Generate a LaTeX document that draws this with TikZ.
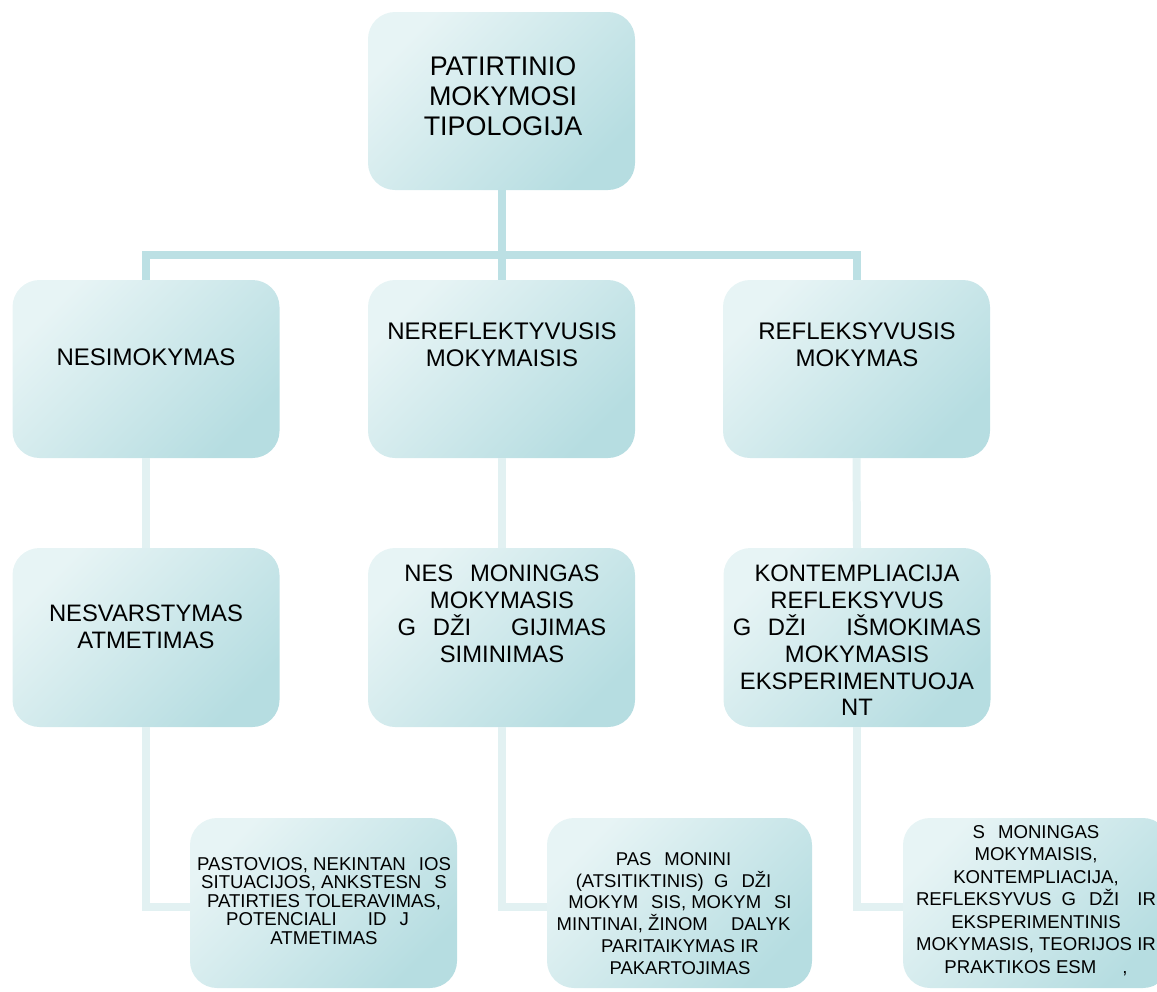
\documentclass[tikz,border=0pt]{standalone}
\usepackage{fontspec}
\setmainfont{Liberation Sans}
\definecolor{boxA}{HTML}{E7F4F5}
\definecolor{boxB}{HTML}{B6DDE1}
\definecolor{conA}{HTML}{BCE0E4}
\definecolor{conB}{HTML}{E2F1F2}
\newcommand\gp{\hbox to 0.7em{}}
\begin{document}
\begin{tikzpicture}[x=1pt,y=-1pt,
  box/.style={rounded corners=27pt, minimum width=267pt, minimum height=178pt,
    inner sep=0pt, top color=boxA, bottom color=boxB, shading angle=45},
  txt/.style={anchor=north, align=center, inner sep=0pt},
  fA/.style={font=\fontsize{26.9}{30}\selectfont},
  fB/.style={font=\fontsize{24}{27}\selectfont},
  fC/.style={font=\fontsize{23.8}{26.8}\selectfont},
  linkA/.style={draw=conA, line width=8pt, line join=miter},
  linkB/.style={draw=conB, line width=8pt, line join=miter}]
\useasboundingbox (0,0) rectangle (1157,991);
\clip (0,0) rectangle (1157,991);
% boxes
\node[box] (top) at (501.5,101) {};
\node[box] (n1) at (146,369) {};
\node[box] (n2) at (501.5,369) {};
\node[box] (n3) at (856.5,369) {};
\node[box, minimum height=179pt] (m1) at (146,637.5) {};
\node[box, minimum height=179pt] (m2) at (501.5,637.5) {};
\node[box, minimum height=179pt] (m3) at (857,637.5) {};
\node[box, minimum height=170pt] (p1) at (323.5,903) {};
\node[box, minimum height=170pt, minimum width=265pt] (p2) at (679.5,903) {};
\node[box, minimum height=170pt] (p3) at (1036.5,903) {};
% connectors
\coordinate (barL) at (146,254.5);
\coordinate (barM) at (501.5,254.5);
\coordinate (barR) at (856.5,254.5);
\draw[linkA] (top.south) -- (barM);
\draw[linkA] (n1.north) -- (barL) -- (barR) -- (n3.north);
\draw[linkA] (barM) -- (n2.north);
\draw[linkB] (n1.south) -- (m1.north);
\draw[linkB] (n2.south) -- (m2.north);
\draw[linkB] (n3.south) -- (m3.north);
\draw[linkB] (m1.south) |- ([yshift=-4pt]p1.west);
\draw[linkB] (m2.south) |- ([yshift=-4pt]p2.west);
\draw[linkB] (m3.south) |- ([yshift=-4pt]p3.west);
% texts
\node[txt, fA] (ttop) at (503,57) {PATIRTINIO\\MOKYMOSI\\TIPOLOGIJA};
\node[txt, fB] (tn1) at (146,349) {NESIMOKYMAS};
\node[txt, fB] (tn2) at (502,323) {NEREFLEKTYVUSIS\\MOKYMAISIS};
\node[txt, fB] (tn3) at (857,323) {REFLEKSYVUSIS\\MOKYMAS};
\node[txt, fC] (tm1) at (146,605) {NESVARSTYMAS\\ATMETIMAS};
\node[txt, fC] (tm2) at (502,565) {NES\gp MONINGAS\\MOKYMASIS\\G\gp DŽI\gp\ \gp GIJIMAS\\SIMINIMAS};
\node[txt, fC] (tm3) at (857,565) {KONTEMPLIACIJA\\REFLEKSYVUS\\G\gp DŽI\gp\ \gp IŠMOKIMAS\\MOKYMASIS\\EKSPERIMENTUOJA\\NT};
\node[txt, font=\fontsize{18.6}{18.5}\selectfont] (tp1) at (324,857)
  {PASTOVIOS, NEKINTAN\gp IOS\\SITUACIJOS, ANKSTESN\gp S\\PATIRTIES TOLERAVIMAS,\\POTENCIALI\gp\ \gp ID\gp J\gp\\ATMETIMAS};
\node[txt, font=\fontsize{18.5}{21.9}\selectfont] (tp2) at (680,852)
  {PAS\gp MONINI\gp\\(ATSITIKTINIS)\ \ G\gp DŽI\gp\\MOKYM\gp SIS, MOKYM\gp SI\\MINTINAI, ŽINOM\gp\ \ DALYK\gp\\PARITAIKYMAS IR\\PAKARTOJIMAS};
\node[txt, font=\fontsize{18.6}{22.5}\selectfont] (tp3) at (1036,825)
  {S\gp MONINGAS\\MOKYMAISIS,\\KONTEMPLIACIJA,\\REFLEKSYVUS\ \ G\gp DŽI\gp\ IR\\EKSPERIMENTINIS\\MOKYMASIS, TEORIJOS IR\\PRAKTIKOS ESM\gp\gp ,};
\end{tikzpicture}
\end{document}
